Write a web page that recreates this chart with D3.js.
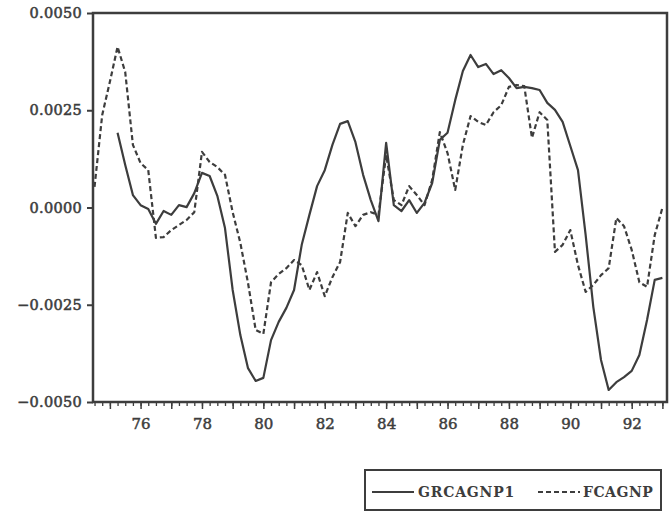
<!DOCTYPE html>
<html>
<head>
<meta charset="utf-8">
<script src="https://cdn.jsdelivr.net/npm/d3@7"></script>
<style>
  html, body { margin: 0; padding: 0; background: #ffffff; }
  svg { display: block; }
</style>
</head>
<body>
<svg id="chart" width="669" height="513"></svg>
<script>
// Quarterly dates (decimal years)
const datesSolid = d3.range(75.25, 93.01, 0.25);
const datesDashed = d3.range(74.5, 93.01, 0.25);

// GRCAGNP1 (solid), from 75Q2
const grcagnp1 = [
  0.00192, 0.00109, 0.00032, 0.00006, -0.00004, -0.00042, -0.00009, -0.00019,
  0.00006, 0.00001, 0.00037, 0.00089, 0.00081, 0.00030, -0.00053, -0.00212,
  -0.00328, -0.00413, -0.00446, -0.00438, -0.00341, -0.00294, -0.00258, -0.00212,
  -0.00096, -0.00019, 0.00055, 0.00096, 0.00161, 0.00215, 0.00222, 0.00168,
  0.00084, 0.00019, -0.00035, 0.00166, 0.00006, -0.00009, 0.00019, -0.00014,
  0.00012, 0.00063, 0.00174, 0.00192, 0.00276, 0.00351, 0.00392, 0.00361,
  0.00369, 0.00343, 0.00353, 0.00333, 0.00307, 0.00310, 0.00307, 0.00302,
  0.00269, 0.00251, 0.00220, 0.00158, 0.00096, -0.00071, -0.00256, -0.00392,
  -0.00469, -0.00449, -0.00436, -0.00420, -0.00379, -0.00289, -0.00186, -0.00181
];

// FCAGNP (dashed), from 74Q3
const fcagnp = [
  0.00053, 0.00238, 0.00323, 0.00413, 0.00348, 0.00161, 0.00114, 0.00096,
  -0.00078, -0.00076, -0.00058, -0.00045, -0.00032, -0.00012, 0.00143, 0.00117,
  0.00104, 0.00084, -0.00012, -0.00091, -0.00194, -0.00315, -0.00325, -0.00192,
  -0.00171, -0.00156, -0.00135, -0.00148, -0.00212, -0.00166, -0.00228, -0.00179,
  -0.00140, -0.00014, -0.00048, -0.00019, -0.00012, -0.00019, 0.00135, 0.00019,
  0.00006, 0.00055, 0.00032, 0.00006, 0.00071, 0.00194, 0.00140, 0.00045,
  0.00161, 0.00235, 0.00220, 0.00212, 0.00245, 0.00263, 0.00310, 0.00315,
  0.00312, 0.00179, 0.00245, 0.00225, -0.00114, -0.00096, -0.00058, -0.00148,
  -0.00217, -0.00199, -0.00174, -0.00156, -0.00027, -0.00048, -0.00109, -0.00192,
  -0.00204, -0.00071, -0.00001
];

const yTicks = [-0.005, -0.0025, 0, 0.0025, 0.005];
const xLabelYears = [76, 78, 80, 82, 84, 86, 88, 90, 92];
const seriesNames = ["GRCAGNP1", "FCAGNP"];

const svg = d3.select("#chart");
const ink = "#3d3d3d";
const fontFam = "'DejaVu Serif', serif";

const x = d3.scaleLinear().domain([74.45, 93.15]).range([93, 667]);
const y = d3.scaleLinear().domain([-0.005, 0.005]).range([402, 13]);

// Quarter ticks (short)
const qAxis = d3.axisBottom(x)
  .tickValues(d3.range(74.5, 93.15, 0.25))
  .tickSize(4).tickFormat("");
svg.append("g").attr("transform", "translate(0,402)").call(qAxis)
  .call(g => g.select(".domain").remove())
  .call(g => g.selectAll("line").attr("stroke", ink).attr("stroke-width", 1.3));

// Year ticks (longer) with labels
const yrAxis = d3.axisBottom(x)
  .tickValues(d3.range(75, 93.1, 1))
  .tickSize(7)
  .tickPadding(9)
  .tickFormat(d => xLabelYears.includes(d) ? String(d) : "");
svg.append("g").attr("transform", "translate(0,402)").call(yrAxis)
  .call(g => g.select(".domain").remove())
  .call(g => g.selectAll("line").attr("stroke", ink).attr("stroke-width", 1.5))
  .call(g => g.selectAll("text")
    .attr("fill", ink).attr("font-family", fontFam)
    .attr("font-size", 15)
    .attr("stroke", ink).attr("stroke-width", 0.5));

// Y axis
const yAxis = d3.axisLeft(y)
  .tickValues(yTicks)
  .tickSize(6)
  .tickPadding(5)
  .tickFormat(d3.format(".4f"));
svg.append("g").attr("transform", "translate(93,0)").call(yAxis)
  .call(g => g.select(".domain").remove())
  .call(g => g.selectAll("line").attr("stroke", ink).attr("stroke-width", 2))
  .call(g => g.selectAll("text")
    .attr("fill", ink).attr("font-family", fontFam)
    .attr("font-size", 14.5)
    .attr("letter-spacing", 0.3)
    .attr("stroke", ink).attr("stroke-width", 0.55));

// Frame
svg.append("rect")
  .attr("x", x.range()[0]).attr("y", y.range()[1])
  .attr("width", x.range()[1] - x.range()[0])
  .attr("height", y.range()[0] - y.range()[1])
  .attr("fill", "none").attr("stroke", ink).attr("stroke-width", 2.5);

// Lines
const line = d3.line().x(d => x(d[0])).y(d => y(d[1]));
const solidData = grcagnp1.map((v, i) => [datesSolid[i], v]);
const dashedData = fcagnp.map((v, i) => [datesDashed[i], v]);

svg.append("path").datum(dashedData)
  .attr("d", line).attr("fill", "none")
  .attr("stroke", ink).attr("stroke-width", 2.2)
  .attr("stroke-dasharray", "5,3")
  .attr("stroke-linejoin", "round");

svg.append("path").datum(solidData)
  .attr("d", line).attr("fill", "none")
  .attr("stroke", ink).attr("stroke-width", 2.2)
  .attr("stroke-linejoin", "round");

// Legend
const lg = svg.append("g");
lg.append("rect").attr("x", 365).attr("y", 470).attr("width", 296).attr("height", 40)
  .attr("fill", "none").attr("stroke", ink).attr("stroke-width", 2);
lg.append("line").attr("x1", 372).attr("x2", 414).attr("y1", 492).attr("y2", 492)
  .attr("stroke", ink).attr("stroke-width", 2.2);
lg.append("text").attr("x", 418).attr("y", 497).text(seriesNames[0])
  .attr("fill", ink).attr("font-family", fontFam).attr("font-weight", "bold")
  .attr("font-size", 14).attr("letter-spacing", 0.8);
lg.append("line").attr("x1", 538).attr("x2", 580).attr("y1", 492).attr("y2", 492)
  .attr("stroke", ink).attr("stroke-width", 2.2).attr("stroke-dasharray", "5,3");
lg.append("text").attr("x", 583).attr("y", 497).text(seriesNames[1])
  .attr("fill", ink).attr("font-family", fontFam).attr("font-weight", "bold")
  .attr("font-size", 14).attr("letter-spacing", 0.5);
</script>
</body>
</html>
